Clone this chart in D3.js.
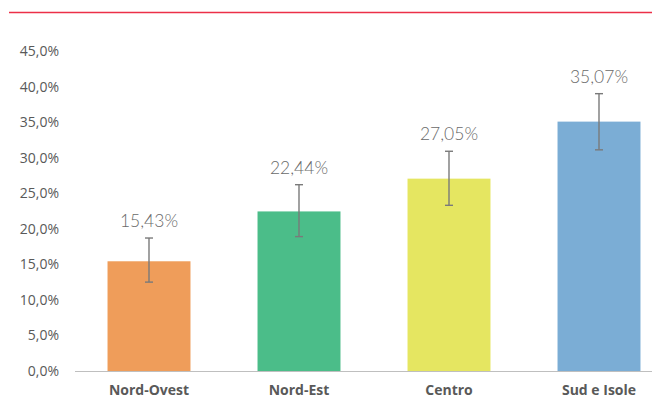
<!DOCTYPE html>
<html>
<head>
<meta charset="utf-8">
<script src="https://cdn.jsdelivr.net/npm/d3@7"></script>
<style>
  body { margin: 0; background: #fff; }
  svg { display: block; }
</style>
</head>
<body>
<svg id="chart" width="652" height="399"></svg>
<script>
// regions and values (percent)
const categories = ['Nord-Ovest', 'Nord-Est', 'Centro', 'Sud e Isole']
const values = [15.43, 22.44, 27.05, 35.07]
const errLow = [12.5, 18.9, 23.3, 31.1]
const errHigh = [18.7, 26.2, 30.9, 39.0]
const colors = ['#ef9d5a', '#4bbd89', '#e5e661', '#7badd5']
const yTicks = [0, 5, 10, 15, 20, 25, 30, 35, 40, 45]

const svg = d3.select('#chart')
const fmt = v => v.toFixed(1).replace('.', ',') + '%'
const fmtLabel = v => v.toFixed(2).replace('.', ',') + '%'

// red rule at the top
svg.append('line')
    .attr('x1', 9).attr('x2', 652)
    .attr('y1', 12.5).attr('y2', 12.5)
    .attr('stroke', '#ec3048').attr('stroke-width', 1.5)

const x = d3.scaleBand().domain(categories).range([74, 674])
    .paddingInner(0.447).paddingOuter(0.2235)
const y = d3.scaleLinear().domain([0, 45]).range([371, 51])

// y tick labels, no axis line
const yAxis = svg.append('g').attr('transform', 'translate(59,0)')
    .call(d3.axisLeft(y).tickValues(yTicks).tickFormat(fmt).tickSize(0).tickPadding(0))
yAxis.select('.domain').remove()
yAxis.selectAll('text')
    .attr('fill', '#595959')
    .style('font-family', 'Open Sans, sans-serif')
    .style('font-size', '14px')

// bars
svg.selectAll('rect.bar').data(categories).enter().append('rect')
    .attr('class', 'bar')
    .attr('x', d => x(d))
    .attr('width', x.bandwidth())
    .attr('y', (d, i) => y(values[i]))
    .attr('height', (d, i) => y(0) - y(values[i]))
    .attr('fill', (d, i) => colors[i])

// baseline
svg.append('line')
    .attr('x1', 75).attr('x2', 652)
    .attr('y1', y(0) + 0.5).attr('y2', y(0) + 0.5)
    .attr('stroke', '#bfbfbf').attr('stroke-width', 1.2)

// error bars
const eb = svg.selectAll('g.err').data(categories).enter().append('g')
    .attr('class', 'err')
    .attr('transform', d => 'translate(' + (x(d) + x.bandwidth() / 2) + ',0)')
eb.append('line')
    .attr('y1', (d, i) => y(errLow[i])).attr('y2', (d, i) => y(errHigh[i]))
eb.append('line').attr('x1', -4).attr('x2', 4)
    .attr('y1', (d, i) => y(errLow[i])).attr('y2', (d, i) => y(errLow[i]))
eb.append('line').attr('x1', -4).attr('x2', 4)
    .attr('y1', (d, i) => y(errHigh[i])).attr('y2', (d, i) => y(errHigh[i]))
eb.selectAll('line').attr('stroke', '#7a7a7a').attr('stroke-width', 1.4)

// value labels
svg.selectAll('text.val').data(categories).enter().append('text')
    .attr('class', 'val')
    .attr('x', d => x(d) + x.bandwidth() / 2)
    .attr('y', (d, i) => y(errHigh[i]) - 11)
    .attr('text-anchor', 'middle')
    .attr('fill', '#6a6a6a')
    .style('font-family', 'Lato, sans-serif')
    .style('font-weight', 300)
    .style('font-size', '17.5px')
    .text((d, i) => fmtLabel(values[i]))

// category labels
svg.selectAll('text.cat').data(categories).enter().append('text')
    .attr('class', 'cat')
    .attr('x', d => x(d) + x.bandwidth() / 2)
    .attr('y', 395)
    .attr('text-anchor', 'middle')
    .attr('fill', '#595959')
    .style('font-family', 'Open Sans, sans-serif')
    .style('font-weight', 700)
    .style('font-size', '14px')
    .text(d => d)
</script>
</body>
</html>
